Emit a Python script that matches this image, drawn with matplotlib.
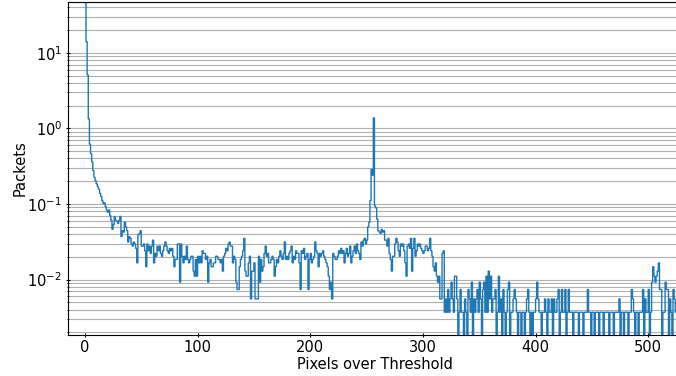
import numpy as np
import matplotlib
matplotlib.use("Agg")
import matplotlib.pyplot as plt

# packets per bin, in counts (one count ~ 0.00185 packets)
count_unit = 0.00185
counts = [
	24300, 7570, 2760, 720, 335, 250, 195, 150, 122, 110, 100, 92, 85, 75, 68, 60, 55, 56, 50, 45,
	42, 45, 38, 33, 25, 29, 37, 33, 32, 30, 33, 37, 20, 24, 23, 31, 27, 24, 17, 20,
	19, 16, 15, 17, 16, 14, 9, 21, 22, 24, 15, 15, 16, 13, 8, 16, 13, 15, 12, 15,
	18, 9, 12, 11, 15, 13, 15, 12, 11, 13, 15, 17, 15, 13, 12, 14, 13, 14, 11, 8,
	10, 10, 16, 16, 5, 16, 11, 9, 11, 10, 15, 10, 9, 10, 11, 11, 7, 6, 10, 6,
	11, 9, 11, 9, 13, 12, 12, 10, 11, 5, 9, 10, 8, 8, 9, 9, 11, 11, 10, 10,
	9, 10, 7, 11, 12, 14, 13, 16, 17, 15, 15, 9, 11, 10, 5, 4, 4, 8, 10, 11,
	13, 19, 7, 6, 6, 9, 11, 3, 7, 7, 9, 3, 3, 3, 11, 5, 10, 7, 8, 12,
	15, 11, 12, 9, 9, 10, 11, 10, 6, 8, 10, 9, 11, 13, 11, 10, 12, 17, 10, 11,
	10, 12, 13, 15, 9, 11, 10, 13, 12, 12, 9, 4, 13, 12, 14, 10, 11, 12, 4, 10,
	12, 9, 10, 11, 17, 13, 12, 8, 12, 11, 12, 13, 11, 10, 9, 8, 6, 4, 5, 3,
	12, 11, 10, 10, 11, 13, 12, 14, 12, 13, 9, 12, 14, 11, 12, 15, 9, 11, 13, 15,
	12, 16, 13, 12, 10, 17, 15, 18, 19, 16, 18, 27, 31, 60, 155, 130, 745, 51, 48, 34,
	24, 23, 22, 25, 23, 24, 18, 18, 15, 19, 12, 10, 7, 11, 11, 16, 19, 17, 13, 11,
	16, 15, 16, 13, 9, 6, 15, 16, 14, 19, 7, 14, 19, 11, 13, 16, 15, 16, 14, 13,
	12, 13, 15, 15, 13, 14, 19, 13, 11, 8, 7, 9, 6, 5, 6, 3, 3, 12, 13, 2,
	3, 2, 4, 2, 3, 5, 3, 2, 6, 6, 3, 0, 2, 4, 2, 2, 0, 3, 2, 0,
	4, 3, 2, 5, 0, 3, 2, 3, 4, 2, 5, 3, 0, 4, 5, 2, 6, 2, 7, 3,
	6, 2, 3, 3, 4, 0, 2, 6, 2, 3, 0, 4, 2, 0, 2, 4, 5, 0, 2, 2,
	3, 4, 3, 2, 0, 2, 2, 0, 2, 2, 0, 2, 3, 4, 2, 0, 2, 0, 2, 2,
	3, 5, 3, 2, 2, 0, 2, 2, 3, 2, 0, 3, 2, 2, 3, 0, 3, 2, 2, 3,
	4, 0, 2, 4, 2, 2, 4, 0, 2, 4, 2, 2, 2, 0, 2, 2, 2, 2, 0, 2,
	2, 2, 0, 2, 2, 2, 4, 2, 2, 0, 2, 2, 0, 2, 2, 2, 0, 2, 2, 2,
	0, 2, 2, 2, 2, 0, 2, 2, 2, 0, 2, 2, 2, 2, 3, 0, 2, 2, 0, 2,
	2, 2, 0, 2, 2, 4, 3, 2, 0, 2, 2, 0, 2, 2, 2, 4, 0, 3, 2, 2,
	4, 0, 2, 5, 8, 6, 5, 6, 7, 9, 4, 4, 0, 2, 2, 5, 4, 4, 0, 3, 2, 0, 4, 3, 2,
]

packets = np.array(counts) * count_unit
edges = np.arange(len(packets) + 1)

fig = plt.figure(figsize=(6.76, 3.76), dpi=100)
# right edge runs just past the image, as in the original crop
ax = fig.add_axes([68 / 676, 41 / 376, 614 / 676, 333 / 376])

# step outline, no baseline edges
ax.stairs(packets, edges, baseline=None, color='#1f77b4', linewidth=1.0)
ax.set_yscale('log')
ax.set_xlim(-15, 530)
ax.set_ylim(0.00185, 47)

ax.grid(True, which='both', axis='y', color='#b0b0b0', linewidth=0.8)
ax.set_axisbelow(True)
ax.tick_params(which='both', direction='inout', labelsize=10.5)
ax.tick_params(axis='x', pad=1.5)
ax.tick_params(axis='y', pad=2.5)

ax.set_xlabel("Pixels over Threshold", fontsize=10.5, labelpad=1.5)
ax.set_ylabel("Packets", fontsize=10.5, labelpad=0)

fig.savefig("out.png", dpi=100)
